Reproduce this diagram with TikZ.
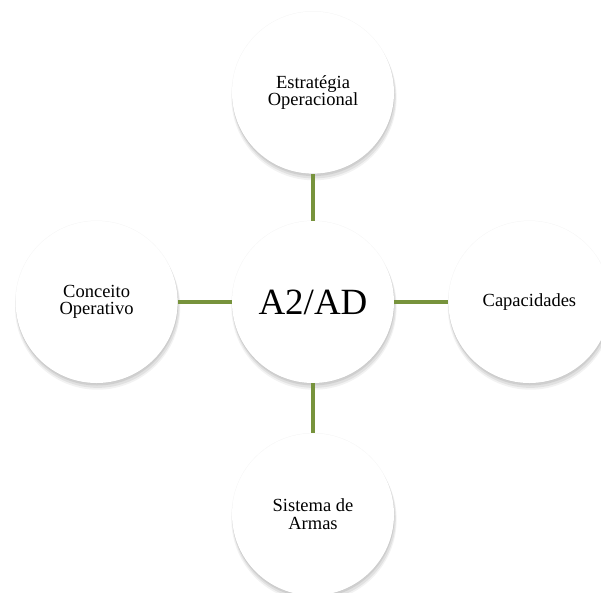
\documentclass[tikz,border=0pt]{standalone}
\usepackage{fontspec}
\setmainfont{Liberation Serif}
\usetikzlibrary{positioning,shadows}
\definecolor{linkgreen}{HTML}{77933C}

\begin{document}
\begin{tikzpicture}[x=1pt,y=-1pt,
  softshadow/.style={
    general shadow={fill=black,opacity=0.05,shadow scale=1.02,shadow xshift=1pt,shadow yshift=-5pt},
    general shadow={fill=black,opacity=0.07,shadow scale=1.01,shadow xshift=1pt,shadow yshift=-4pt},
    general shadow={fill=black,opacity=0.08,shadow scale=1.0,shadow xshift=0.5pt,shadow yshift=-2.5pt},
    general shadow={fill=black,opacity=0.04,shadow scale=1.006,shadow yshift=0pt}},
  bubble/.style={circle,fill=white,minimum size=162pt,inner sep=0pt,align=center,
    font=\fontsize{18.5}{17.5}\selectfont,softshadow},
  hub/.style={bubble,font=\fontsize{37}{40}\selectfont},
  link/.style={line width=4pt,draw=linkgreen}]

\useasboundingbox (0,0) rectangle (601,592);

\node[hub] (C) at (313,302) {A2/AD};

\node[bubble,above=47pt of C] (T) {Estratégia\\Operacional};
\node[bubble,left=54pt of C] (L) {Conceito\\Operativo};
\node[bubble,right=54pt of C] (R) {Capacidades};
\node[bubble,below=50pt of C] (B) {Sistema de\\Armas};

\draw[link] (C) -- (T);
\draw[link] (C) -- (L);
\draw[link] (C) -- (R);
\draw[link] (C) -- (B);
\end{tikzpicture}
\end{document}
